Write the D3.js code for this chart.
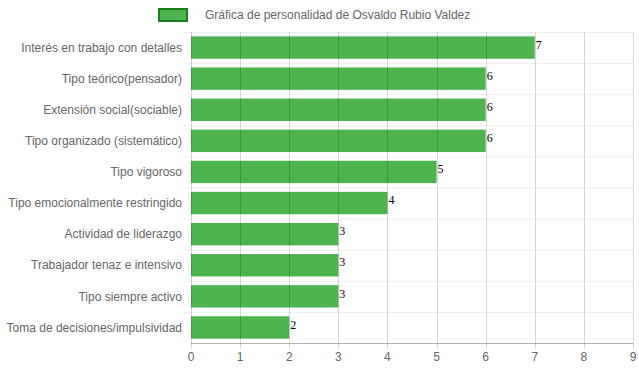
<!DOCTYPE html>
<html>
<head>
<meta charset="utf-8">
<script src="https://cdn.jsdelivr.net/npm/d3@7"></script>
<style>
  body { margin: 0; background: #fff; }
  svg { display: block; }
</style>
</head>
<body>
<div id="chart"></div>
<script>
// chart data
const categories = [
    "Interés en trabajo con detalles",
    "Tipo teórico(pensador)",
    "Extensión social(sociable)",
    "Tipo organizado (sistemático)",
    "Tipo vigoroso",
    "Tipo emocionalmente restringido",
    "Actividad de liderazgo",
    "Trabajador tenaz e intensivo",
    "Tipo siempre activo",
    "Toma de decisiones/impulsividad"
];
const values = [7, 6, 6, 6, 5, 4, 3, 3, 3, 2];
const xTicks = [0, 1, 2, 3, 4, 5, 6, 7, 8, 9];
const seriesName = "Gráfica de personalidad de Osvaldo Rubio Valdez";

const width = 639, height = 372;
const margin = { top: 32, right: 6, bottom: 29, left: 191 };
const font = "'Liberation Sans', Arial, Helvetica, sans-serif";
const barColor = "#4cb34f";

const svg = d3.select("#chart").append("svg")
    .attr("width", width)
    .attr("height", height);

const xScale = d3.scaleLinear()
    .domain([0, 9])
    .range([margin.left, width - margin.right]);

const yScale = d3.scaleBand()
    .domain(categories)
    .range([margin.top, height - margin.bottom])
    .paddingInner(0.28)
    .paddingOuter(0.14);

const bandStep = yScale.step();
const y0 = margin.top, y1 = height - margin.bottom;

// horizontal grid (category boundaries)
const boundaries = d3.range(categories.length).map(i => y0 + i * bandStep);
svg.append("g")
    .selectAll("line")
    .data(boundaries)
    .join("line")
    .attr("x1", margin.left - 8)
    .attr("x2", width - margin.right)
    .attr("y1", d => d + 0.5)
    .attr("y2", d => d + 0.5)
    .attr("stroke", "rgba(0,0,0,0.07)");

// bars
svg.append("g")
    .selectAll("rect")
    .data(values)
    .join("rect")
    .attr("x", xScale(0))
    .attr("y", (d, i) => yScale(categories[i]))
    .attr("width", d => xScale(d) - xScale(0))
    .attr("height", yScale.bandwidth())
    .attr("fill", barColor);

// vertical grid, drawn over bars
svg.append("g")
    .selectAll("line")
    .data(xTicks)
    .join("line")
    .attr("x1", d => Math.round(xScale(d)) + 0.5)
    .attr("x2", d => Math.round(xScale(d)) + 0.5)
    .attr("y1", y0)
    .attr("y2", y1 + 6)
    .attr("stroke", "rgba(0,0,0,0.16)");

// bottom axis line
svg.append("line")
    .attr("x1", margin.left)
    .attr("x2", width - margin.right)
    .attr("y1", y1 + 0.5)
    .attr("y2", y1 + 0.5)
    .attr("stroke", "rgba(0,0,0,0.3)");

// x tick labels
svg.append("g")
    .selectAll("text")
    .data(xTicks)
    .join("text")
    .attr("x", d => xScale(d))
    .attr("y", y1 + 18)
    .attr("text-anchor", "middle")
    .attr("font-family", font)
    .attr("font-size", 12)
    .attr("fill", "#666")
    .text(d => d);

// category labels
svg.append("g")
    .selectAll("text")
    .data(categories)
    .join("text")
    .attr("x", margin.left - 9)
    .attr("y", d => yScale(d) + yScale.bandwidth() / 2)
    .attr("dy", "0.35em")
    .attr("text-anchor", "end")
    .attr("font-family", font)
    .attr("font-size", 12)
    .attr("fill", "#666")
    .text(d => d);

// value labels
svg.append("g")
    .selectAll("text")
    .data(values)
    .join("text")
    .attr("x", d => xScale(d) + 1)
    .attr("y", (d, i) => yScale(categories[i]) + yScale.bandwidth() / 2 - 3)
    .attr("dy", "0.35em")
    .attr("font-family", "'Liberation Serif', 'Times New Roman', serif")
    .attr("font-size", 12)
    .attr("fill", "#000")
    .text(d => d);

// legend
const legend = svg.append("g");
legend.append("rect")
    .attr("x", 159)
    .attr("y", 9)
    .attr("width", 28)
    .attr("height", 12)
    .attr("fill", barColor)
    .attr("stroke", "#1e7a1e")
    .attr("stroke-width", 2);
legend.append("text")
    .attr("x", 205)
    .attr("y", 15)
    .attr("dy", "0.35em")
    .attr("font-family", font)
    .attr("font-size", 12)
    .attr("fill", "#666")
    .text(seriesName);
</script>
</body>
</html>
